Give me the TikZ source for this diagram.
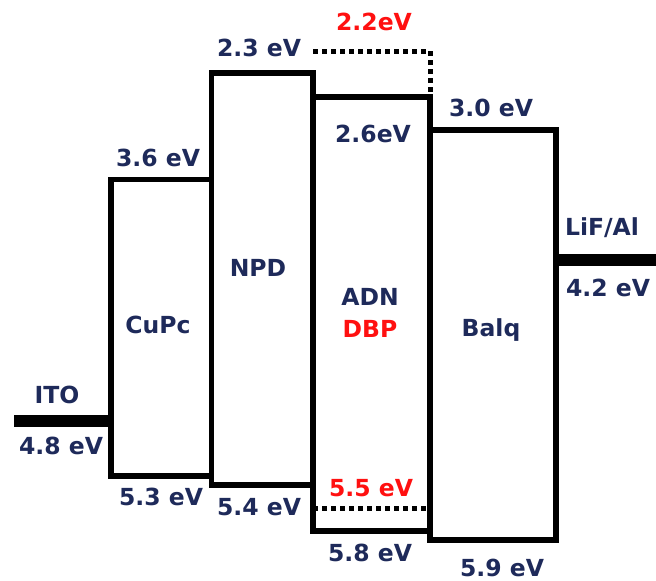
\documentclass[tikz,border=0pt]{standalone}
\usepackage{fontspec}
\setmainfont{DejaVu Sans}
\definecolor{navy}{HTML}{1E2A5A}
\definecolor{lblred}{HTML}{FF1010}
\begin{document}
\begin{tikzpicture}[x=1pt,y=-1pt,
  lbl/.style={font=\bfseries\fontsize{23.5}{26}\selectfont, text=navy, inner sep=0pt, anchor=center},
  redlbl/.style={lbl, text=lblred},
  level/.style={line width=5.5pt, draw=black, line join=miter},
  dotlvl/.style={line width=5pt, draw=black, dash pattern=on 4.5pt off 4.5pt},
  electrode/.style={line width=12.5pt, draw=black}]
\useasboundingbox (0,0) rectangle (656,581);
% boxes
\draw[level] (111,179.5) rectangle (211.5,476);
\draw[level] (211.5,73) rectangle (313,485);
\draw[level] (313,97) rectangle (430,531);
\draw[level] (430,130) rectangle (556,540);
% dotted DBP levels
\coordinate (d1) at (313,51);
\coordinate (d2) at (430,51);
\coordinate (d3) at (430,97);
\draw[dotlvl] (d1) -- (d2) -- (d3);
\coordinate (d4) at (313,508);
\coordinate (d5) at (430,508);
\draw[dotlvl] (d4) -- (d5);
% electrodes
\coordinate (ito1) at (14,421);
\coordinate (ito2) at (111,421);
\draw[electrode] (ito1) -- (ito2);
\coordinate (al1) at (556,260);
\coordinate (al2) at (656,260);
\draw[electrode] (al1) -- (al2);
% labels
\node[lbl] (l36) at (158,158) {3.6 eV};
\node[lbl] (l23) at (259,48) {2.3 eV};
\node[redlbl] (l22) at (374,22) {2.2eV};
\node[lbl] (l26) at (373,134) {2.6eV};
\node[lbl] (l30) at (491,108) {3.0 eV};
\node[lbl] (llif) at (602,228) {LiF/Al};
\node[lbl] (l42) at (608,288) {4.2 eV};
\node[lbl] (cupc) at (158,325) {CuPc};
\node[lbl] (npd) at (258,268) {NPD};
\node[lbl] (adn) at (370,297) {ADN};
\node[redlbl] (dbp) at (370,329) {DBP};
\node[lbl] (balq) at (491,330) {Balq};
\node[lbl] (ito) at (57,395) {ITO};
\node[lbl] (l48) at (61,446) {4.8 eV};
\node[lbl] (l53) at (161,497) {5.3 eV};
\node[lbl] (l54) at (259,507) {5.4 eV};
\node[redlbl] (l55) at (371,488) {5.5 eV};
\node[lbl] (l58) at (370,553) {5.8 eV};
\node[lbl] (l59) at (502,568) {5.9 eV};
\end{tikzpicture}
\end{document}
